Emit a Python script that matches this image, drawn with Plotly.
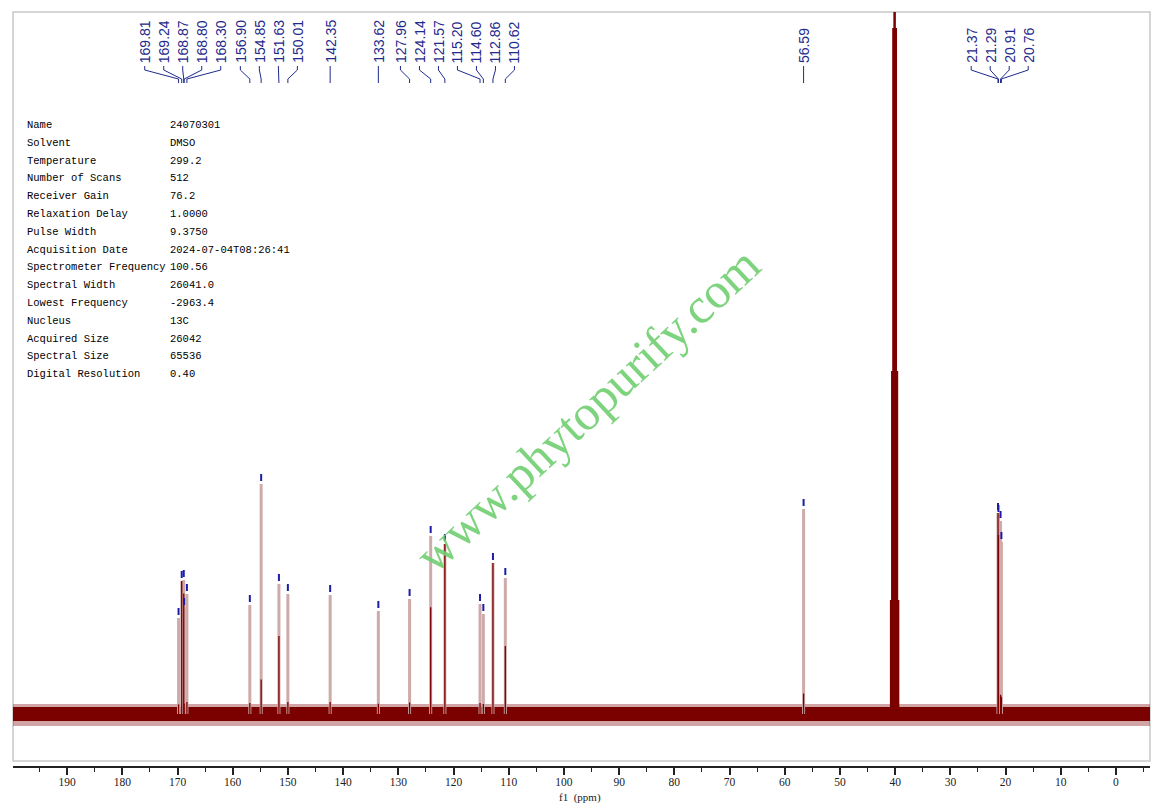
import plotly.graph_objects as go

# ---------------- data ----------------
peak_ppm = [169.81, 169.24, 168.87, 168.80, 168.30, 156.90, 154.85, 151.63, 150.01,
            142.35, 133.62, 127.96, 124.14, 121.57, 115.20, 114.60, 112.86, 110.62,
            56.59, 21.37, 21.29, 20.91, 20.76]
peak_height = [96, 133, 134, 106, 120, 109, 230, 130, 120,
               119, 103, 115, 178, 170, 110, 100, 151, 136,
               205, 201, 199, 193, 172]
solvent_ppm = [40.73, 40.52, 40.31, 40.10, 39.89, 39.68, 39.47]
solvent_height = [114, 343, 686, 800, 686, 343, 114]
x_tick_values = list(range(0, 200, 10))
param_names = ["Name", "Solvent", "Temperature", "Number of Scans", "Receiver Gain",
               "Relaxation Delay", "Pulse Width", "Acquisition Date",
               "Spectrometer Frequency", "Spectral Width", "Lowest Frequency",
               "Nucleus", "Acquired Size", "Spectral Size", "Digital Resolution"]
param_values = ["24070301", "DMSO", "299.2", "512", "76.2", "1.0000", "9.3750",
                "2024-07-04T08:26:41", "100.56", "26041.0", "-2963.4", "13C",
                "26042", "65536", "0.40"]
watermark_text = "www.phytopurify.com"
x_title = "f1  (ppm)"

# ---------------- layout geometry (reference pixel coords) ----------------
OFF = 8                       # page body margin
W, H = 1164 - OFF, 810 - OFF
L, R, T, B = 13, 1150, 12, 766
X_LEFT, X_RIGHT = 199.8, -6.16
Y_MIN, Y_MAX = -52, 702

def px_of(ppm):
    return L + (X_LEFT - ppm) / (X_LEFT - X_RIGHT) * (R - L)

def ppm_of(px):
    return X_LEFT - (px - L) / (R - L) * (X_LEFT - X_RIGHT)

def yu(py):
    return Y_MAX - (py - T)

def paper_x(px):
    return (px - L) / (R - L)

def paper_y(py):
    return (B - py) / (B - T)

DARK = "#7b0000"
LIGHT = "#cfaaaa"
BLUE = "#1c1ca8"
NAVY = "#1e2a8c"

# dark core fraction per peak (styling only)
dark_frac = {169.24: 1.0, 121.57: 1.0, 112.86: 1.0, 21.37: 1.0, 124.14: 0.6,
             110.62: 0.5, 151.63: 0.6, 154.85: 0.15, 168.87: 0.9, 21.29: 0.9}

fig = go.Figure()

# baseline noise band
fig.add_trace(go.Scatter(x=[X_LEFT, X_RIGHT, X_RIGHT, X_LEFT, X_LEFT],
                         y=[-12, -12, 10, 10, -12], fill="toself", mode="lines",
                         line=dict(width=0), fillcolor="rgba(140,30,30,0.40)",
                         hoverinfo="skip", showlegend=False))
fig.add_trace(go.Scatter(x=[X_LEFT, X_RIGHT, X_RIGHT, X_LEFT, X_LEFT],
                         y=[-7, -7, 7, 7, -7], fill="toself", mode="lines",
                         line=dict(width=0), fillcolor=DARK,
                         hoverinfo="skip", showlegend=False))

# light peak lines
xs, ys = [], []
for p, h in zip(peak_ppm, peak_height):
    xs += [p, p, None]
    ys += [0, h, None]
fig.add_trace(go.Scatter(x=xs, y=ys, mode="lines", line=dict(color=LIGHT, width=3),
                         hoverinfo="skip", showlegend=False))
# dark cores
xs, ys = [], []
for p, h in zip(peak_ppm, peak_height):
    f = dark_frac.get(p, 0.1)
    xs += [p, p, None]
    ys += [0, h * f, None]
fig.add_trace(go.Scatter(x=xs, y=ys, mode="lines", line=dict(color=DARK, width=1.3),
                         hoverinfo="skip", showlegend=False))

# solvent multiplet
xs, ys = [], []
for p, h in zip(solvent_ppm, solvent_height):
    xs += [p, p, None]
    ys += [0, h, None]
fig.add_trace(go.Scatter(x=xs, y=ys, mode="lines", line=dict(color=DARK, width=2.5),
                         hoverinfo="skip", showlegend=False))

# blue peak-pick markers
xs, ys = [], []
for p, h in zip(peak_ppm, peak_height):
    xs += [p, p, None]
    ys += [h + 3, h + 10, None]
fig.add_trace(go.Scatter(x=xs, y=ys, mode="lines", line=dict(color=BLUE, width=2),
                         hoverinfo="skip", showlegend=False))

# label spreading: clusters centred on the midpoint of their extreme peaks
GAP = 19.0
peak_px = [px_of(p) for p in peak_ppm]

def cen(c):
    return (min(c) + max(c)) / 2

clusters = []
for x in peak_px:
    clusters.append([x])
    while len(clusters) > 1:
        a, b = clusters[-2], clusters[-1]
        a_end = cen(a) + (len(a) - 1) / 2 * GAP
        b_start = cen(b) - (len(b) - 1) / 2 * GAP
        if b_start - a_end < GAP:
            clusters[-2:] = [a + b]
        else:
            break
label_px = []
for c in clusters:
    m = cen(c)
    for i in range(len(c)):
        label_px.append(m - (len(c) - 1) / 2 * GAP + i * GAP)

xs, ys = [], []
for p, lx in zip(peak_ppm, label_px):
    lppm = ppm_of(lx)
    xs += [lppm, lppm, p, p, None]
    ys += [yu(66), yu(70), yu(79), yu(83), None]
fig.add_trace(go.Scatter(x=xs, y=ys, mode="lines", line=dict(color=NAVY, width=1),
                         hoverinfo="skip", showlegend=False))

annotations = []
for p, lx in zip(peak_ppm, label_px):
    annotations.append(dict(x=ppm_of(lx), y=yu(65), xref="x", yref="y",
                            text=f"{p:.2f}", textangle=-90, showarrow=False,
                            xanchor="center", yanchor="bottom",
                            font=dict(family="Liberation Sans, Arial", size=14, color=NAVY)))

# parameter table
for i, (n, v) in enumerate(zip(param_names, param_values)):
    py = 125 + i * 17.8
    annotations.append(dict(x=paper_x(25), y=paper_y(py), xref="paper", yref="paper",
                            text=n, showarrow=False, xanchor="left", yanchor="middle",
                            font=dict(family="Liberation Mono, monospace", size=10.5, color="#000")))
    annotations.append(dict(x=paper_x(168), y=paper_y(py), xref="paper", yref="paper",
                            text=v, showarrow=False, xanchor="left", yanchor="middle",
                            font=dict(family="Liberation Mono, monospace", size=10.5, color="#000")))

# watermark
annotations.append(dict(x=paper_x(587), y=paper_y(410), xref="paper", yref="paper",
                        text=watermark_text, textangle=-43, showarrow=False,
                        xanchor="center", yanchor="middle",
                        font=dict(family="Liberation Serif, Times New Roman", size=50,
                                  color="rgba(112,206,112,0.9)")))
# axis title
annotations.append(dict(x=paper_x(580), y=paper_y(797), xref="paper", yref="paper",
                        text=x_title, showarrow=False, xanchor="center", yanchor="middle",
                        font=dict(family="Liberation Serif, serif", size=11, color="#222")))

fig.update_layout(
    width=W, height=H,
    margin=dict(l=L - OFF, r=W - (R - OFF), t=T - OFF, b=H - (B - OFF)),
    paper_bgcolor="white", plot_bgcolor="white",
    annotations=annotations,
    shapes=[dict(type="rect", xref="paper", yref="paper",
                 x0=0, x1=1, y0=paper_y(761), y1=paper_y(12),
                 line=dict(color="#c9c9c9", width=1.5), layer="below")],
    xaxis=dict(range=[X_LEFT, X_RIGHT], tickvals=x_tick_values,
               ticktext=[str(v) for v in x_tick_values],
               showgrid=False, zeroline=False, showline=True, linecolor="#222",
               linewidth=1.5, ticks="outside", ticklen=7, tickwidth=1.5, tickcolor="#222",
               ticklabelstandoff=-3,
               tickfont=dict(family="Liberation Serif, serif", size=11.5, color="#222"),
               minor=dict(tickvals=[v + 5 for v in x_tick_values] + [-5], ticks="outside",
                          ticklen=4, tickwidth=1.2, tickcolor="#222"),
               fixedrange=True),
    yaxis=dict(range=[Y_MIN, Y_MAX], visible=False, fixedrange=True),
    showlegend=False,
)

fig.write_html("out.html")
